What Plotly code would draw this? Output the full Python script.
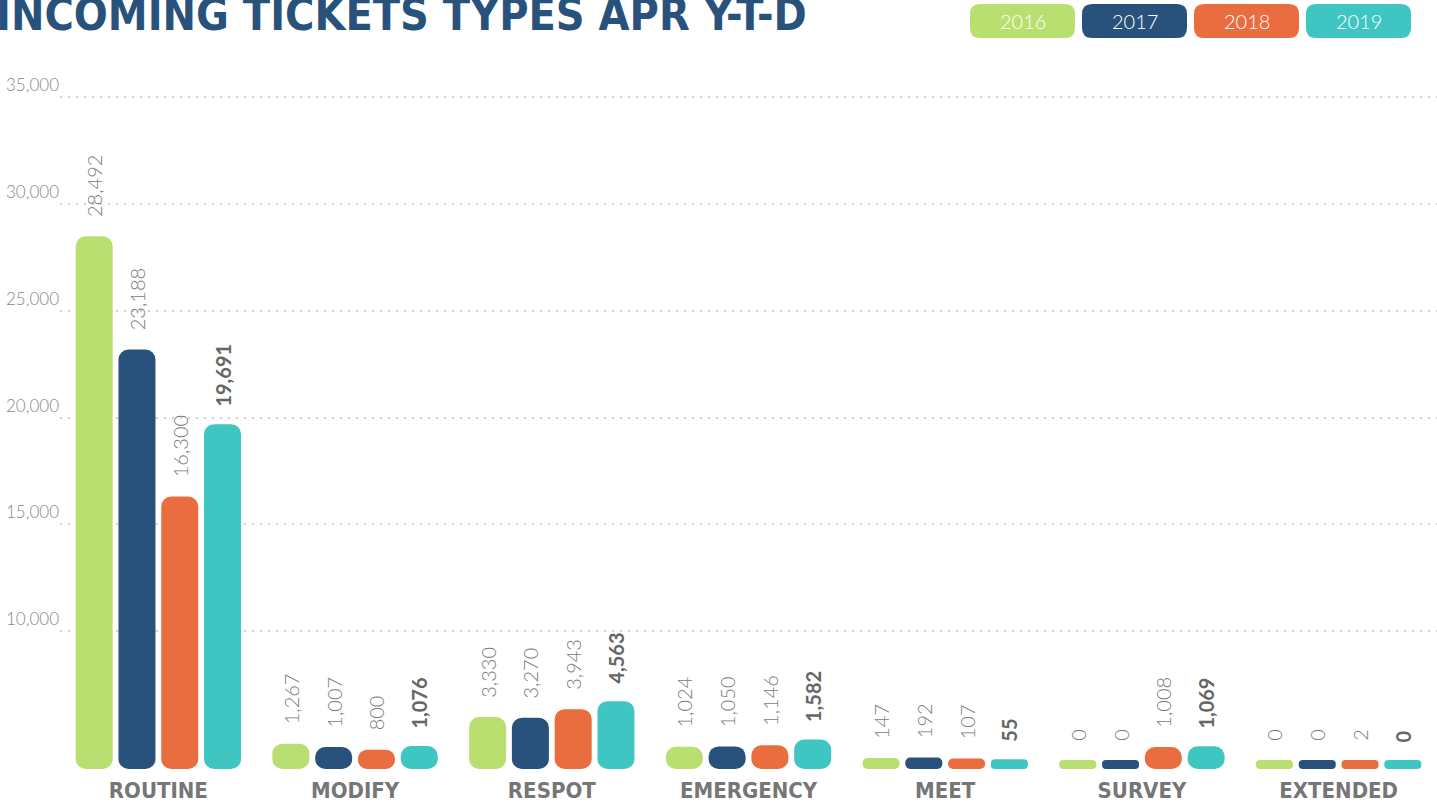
"""Incoming ticket types, April year-to-date, by year (grouped rounded bars)."""
import plotly.graph_objects as go

# --- data -------------------------------------------------------------------
categories = ["ROUTINE", "MODIFY", "RESPOT", "EMERGENCY", "MEET", "SURVEY", "EXTENDED"]
years = ["2016", "2017", "2018", "2019"]
tickets_2016 = [28492, 1267, 3330, 1024, 147, 0, 0]
tickets_2017 = [23188, 1007, 3270, 1050, 192, 0, 0]
tickets_2018 = [16300, 800, 3943, 1146, 107, 1008, 2]
tickets_2019 = [19691, 1076, 4563, 1582, 55, 1069, 0]
grid_values = [10000, 15000, 20000, 25000, 30000, 35000]

series = [tickets_2016, tickets_2017, tickets_2018, tickets_2019]
colors = ["#B8DF6F", "#28527C", "#E96D3F", "#3FC6C2"]

# --- scale ------------------------------------------------------------------
# the original infographic stretches the axis above 10,000 (broken scale)
BREAK = 10000
UPPER_STRETCH = 1.656
FLOOR = -700  # bars start a little under zero so empty values still show


def scale(v):
    if v <= BREAK:
        return v
    return BREAK + (v - BREAK) * UPPER_STRETCH


# --- page geometry ------------------------------------------------------------
W, H = 1437, 804
ML, MR, MT, MB = 60, 0, 60, 35
PW, PH = W - ML - MR, H - MT - MB


def px_x(px):
    return (px - ML) / PW


def px_y(py):
    return (H - MB - py) / PH


LABEL_FONT = "Lato, 'Open Sans', sans-serif"
COND_FONT = "'Liberation Sans Narrow', 'DejaVu Sans Condensed', sans-serif"

fig = go.Figure()

# bars with an explicit base get both ends rounded
for year, vals, col in zip(years, series, colors):
    bold = year == "2019"
    fig.add_trace(go.Bar(
        x=categories,
        base=FLOOR,
        y=[scale(v) - FLOOR for v in vals],
        name=year,
        marker=dict(color=col, line=dict(width=0), cornerradius=10),
        text=["\u00a0\u00a0\u00a0" + f"{v:,}" for v in vals],
        textposition="outside",
        textangle=-90,
        constraintext="none",
        cliponaxis=False,
        textfont=dict(family=LABEL_FONT, size=20,
                      color="#666666" if bold else "#7C7C7C",
                      weight=700 if bold else 300),
        customdata=vals,
        hovertemplate=year + " %{x}: %{customdata:,}<extra></extra>",
        showlegend=False,
    ))

# --- legend pills ---------------------------------------------------------------
pill_x0, pill_step, pill_w = 970, 112, 105
pill_top, pill_bot, rad = 4, 38, 10
rx, ry = rad / PW, rad / PH
for i, (year, col) in enumerate(zip(years, colors)):
    x0 = px_x(pill_x0 + i * pill_step)
    x1 = px_x(pill_x0 + i * pill_step + pill_w)
    y0, y1 = px_y(pill_bot), px_y(pill_top)
    path = (f"M {x0 + rx},{y0} L {x1 - rx},{y0} Q {x1},{y0} {x1},{y0 + ry} "
            f"L {x1},{y1 - ry} Q {x1},{y1} {x1 - rx},{y1} "
            f"L {x0 + rx},{y1} Q {x0},{y1} {x0},{y1 - ry} "
            f"L {x0},{y0 + ry} Q {x0},{y0} {x0 + rx},{y0} Z")
    fig.add_shape(type="path", path=path, xref="paper", yref="paper",
                  fillcolor=col, line=dict(width=0), layer="above")
    fig.add_annotation(x=(x0 + x1) / 2, y=(y0 + y1) / 2, xref="paper", yref="paper",
                       text=year, showarrow=False, xanchor="center", yanchor="middle",
                       font=dict(family=LABEL_FONT, size=20, color="white", weight=300))

# title, partly cut by the top edge like in the original
fig.add_annotation(
    x=px_x(-6), y=px_y(42), xref="paper", yref="paper",
    xanchor="left", yanchor="bottom",
    text="<b>INCOMING TICKETS TYPES APR Y-T-D</b>", showarrow=False,
    font=dict(family=COND_FONT, size=44.5, color="#28527C"),
)

fig.update_layout(
    width=W, height=H,
    margin=dict(l=ML, r=MR, t=MT, b=MB, autoexpand=False),
    paper_bgcolor="white", plot_bgcolor="white",
    barmode="group", bargap=0.13, bargroupgap=0.135,
    showlegend=False,
    xaxis=dict(
        range=[-0.5, len(categories) - 0.5],
        showgrid=False, showline=False, zeroline=False, ticks="",
        ticklabelstandoff=6,
        tickfont=dict(family=COND_FONT, size=22, color="#767676", weight=700),
    ),
    yaxis=dict(
        range=[FLOOR, scale(35000) + 2900],
        tickvals=[scale(g) for g in grid_values],
        ticktext=[f"{g:,}" for g in grid_values],
        ticklabelposition="outside top",
        tickfont=dict(family=LABEL_FONT, size=17, color="#888888", weight=300),
        showgrid=True, gridcolor="#CFCFCF", griddash="2px,6px", gridwidth=2,
        zeroline=False, showline=False, ticks="",
    ),
)

# the page's default body margin would shift the whole figure by 8px
fig.write_html("out.html", config={"displayModeBar": False},
               post_script="document.body.style.margin='0';")
